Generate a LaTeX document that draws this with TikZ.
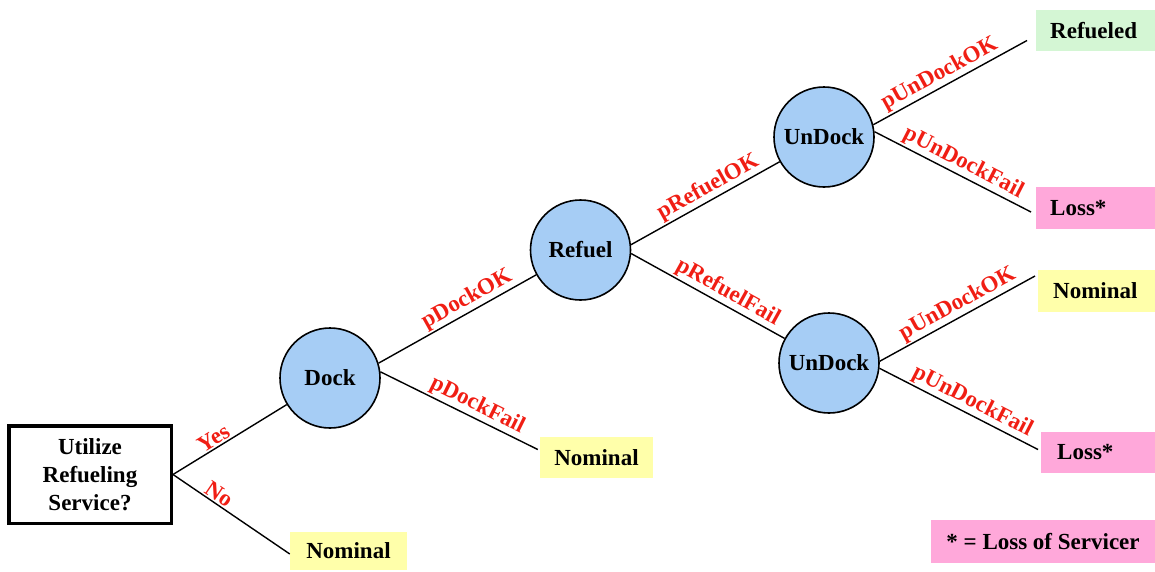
\documentclass[tikz,border=0pt]{standalone}
\usepackage{fontspec}
\setmainfont{Liberation Serif}
\definecolor{circblue}{RGB}{166,205,245}
\definecolor{boxyellow}{RGB}{255,255,170}
\definecolor{boxgreen}{RGB}{212,246,212}
\definecolor{boxpink}{RGB}{255,168,218}
\definecolor{lblred}{RGB}{240,30,20}
\begin{document}
\begin{tikzpicture}[x=1pt,y=-1pt,
  txt/.style={font=\fontsize{23}{28}\selectfont\bfseries},
  chance/.style={circle, draw, line width=1.6pt, fill=circblue, minimum size=100pt, inner sep=0pt, txt},
  decision/.style={rectangle, draw, line width=3.5pt, align=center, inner sep=0pt, txt},
  outcome/.style={rectangle, inner sep=0pt, txt},
  leftout/.style={rectangle, anchor=west, inner ysep=0pt, align=left, txt},
  conn/.style={line width=1.4pt},
  lbl/.style={font=\fontsize{23}{28}\selectfont\bfseries, text=lblred, sloped, above, inner sep=1.5pt},
]
\useasboundingbox (0,0) rectangle (1155,571);

% nodes
\node[decision, minimum width=162.5pt, minimum height=97.5pt] (dec) at (90,474.5) {Utilize\\Refueling\\Service?};
\node[chance] (dock) at (330,378) {Dock};
\node[chance] (refuel) at (580.5,250) {Refuel};
\node[chance] (u1) at (824,137) {UnDock};
\node[chance] (u2) at (829,363) {UnDock};

\node[outcome, fill=boxyellow, minimum width=117pt, minimum height=38pt] (nom1) at (348.5,551) {Nominal};
\node[outcome, fill=boxyellow, minimum width=113pt, minimum height=41pt] (nom2) at (596.5,457.5) {Nominal};
\node[leftout, fill=boxgreen, inner xsep=14pt, text width=91pt, minimum height=41pt] (ref) at (1036,30.5) {Refueled};
\node[leftout, fill=boxpink, inner xsep=14pt, text width=91pt, minimum height=42pt] (loss1) at (1036,208) {Loss*};
\node[leftout, fill=boxyellow, inner xsep=15pt, text width=87pt, minimum height=42pt] (nom3) at (1038,291) {Nominal};
\node[leftout, fill=boxpink, inner xsep=16pt, text width=82pt, minimum height=41pt] (loss2) at (1041,452.5) {Loss*};
\node[outcome, fill=boxpink, minimum width=224pt, minimum height=43pt] (legend) at (1043,541.5) {* = Loss of Servicer};

% connectors
\draw[conn] (dec.east) -- node[lbl, pos=0.40] {Yes} (dock);
\draw[conn] (dec.east) -- node[lbl, pos=0.35] {No} ([yshift=-3pt]nom1.west);
\draw[conn] (dock.17) -- node[lbl, pos=0.60] {pDockOK} (refuel);
\draw[conn] (dock.7) -- node[lbl, pos=0.58] {pDockFail} ([xshift=-2pt,yshift=8pt]nom2.west);
\draw[conn] (refuel.6) -- node[lbl, pos=0.56] {pRefuelOK} (u1);
\draw[conn] (refuel.-4) -- node[lbl, pos=0.59] {pRefuelFail} (u2);
\draw[conn] (u1.14) -- node[lbl, pos=0.47] {pUnDockOK} ([xshift=-9pt,yshift=-10pt]ref.west);
\draw[conn] (u1.6) -- node[lbl, pos=0.53] {pUnDockFail} ([xshift=-5pt,yshift=-4pt]loss1.west);
\draw[conn] (u2.2) -- node[lbl, pos=0.54] {pUnDockOK} ([xshift=-3pt,yshift=15pt]nom3.west);
\draw[conn] (u2.-6) -- node[lbl, pos=0.55] {pUnDockFail} ([xshift=-3pt,yshift=3pt]loss2.west);
\end{tikzpicture}
\end{document}
